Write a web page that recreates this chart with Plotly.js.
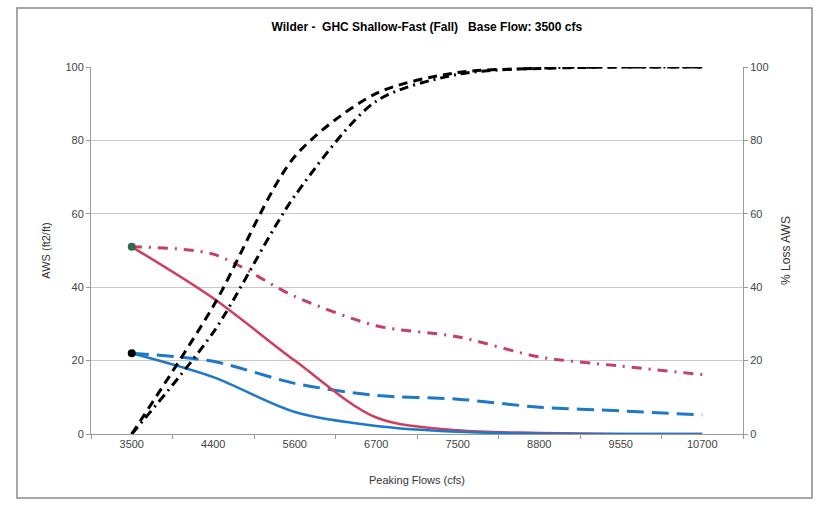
<!DOCTYPE html>
<html>
<head>
<meta charset="utf-8">
<script src="https://cdn.plot.ly/plotly-3.0.1.min.js"></script>
<style>
html,body{margin:0;padding:0;background:#fff;}
#chart{width:824px;height:505px;}
</style>
</head>
<body>
<div id="chart"></div>
<script>
// Category labels (peaking flows, cfs)
const categories = ['3500','4400','5600','6700','7500','8800','9550','10700'];
// AWS (ft2/ft) series, left axis
const awsRedSolid    = [51, 37, 20, 4.5, 1.0, 0.3, 0, 0];
const awsBlueSolid   = [22, 15.5, 6, 2.2, 0.6, 0.1, 0, 0];
const awsBlueDash    = [22, 19.8, 13.8, 10.5, 9.5, 7.3, 6.3, 5.2];
const awsRedDashDot  = [51, 49, 37.5, 29.5, 26.5, 21, 18.5, 16.2];
// % Loss AWS series, right axis
const lossBlackDash    = [0, 34.8, 75.6, 92.8, 98.5, 99.6, 100, 100];
const lossBlackDashDot = [0, 27.7, 64.9, 90.7, 98, 99.7, 100, 100];
// Base-flow markers
const baseRed  = [51];
const baseBlue = [22];

const red = '#CF3F5C', red2 = '#C2406A', blue = '#1E78C8';
const traces = [
  {x: categories, y: awsRedDashDot, mode:'lines', line:{color:red2, width:3, dash:'10px,7px,2px,7px', shape:'spline', smoothing:0.8}, yaxis:'y'},
  {x: categories, y: awsBlueDash, mode:'lines', line:{color:blue, width:3, dash:'17px,8px', shape:'spline', smoothing:0.8}, yaxis:'y'},
  {x: categories, y: awsRedSolid, mode:'lines', line:{color:red, width:2.5, shape:'spline', smoothing:0.9}, yaxis:'y'},
  {x: categories, y: awsBlueSolid, mode:'lines', line:{color:blue, width:2.5, shape:'spline', smoothing:0.9}, yaxis:'y'},
  {x: categories, y: lossBlackDash, mode:'lines', line:{color:'#000', width:3, dash:'9px,6px', shape:'spline', smoothing:0.8}, yaxis:'y2'},
  {x: categories, y: lossBlackDashDot, mode:'lines', line:{color:'#000', width:3, dash:'9px,5px,2px,5px', shape:'spline', smoothing:0.8}, yaxis:'y2'},
  {x: [categories[0]], y: baseRed, mode:'markers', marker:{color:'#2E6B4E', size:8}, yaxis:'y'},
  {x: [categories[0]], y: baseBlue, mode:'markers', marker:{color:'#000', size:8}, yaxis:'y'}
];

const font = {family:'Arial, Liberation Sans, sans-serif', size:11, color:'#333'};
const X0 = 91, X1 = 743, Y0 = 67, Y1 = 434;
const px = v => (v - X0) / (X1 - X0);
const py = v => (Y1 - v) / (Y1 - Y0);

const layout = {
  width:824, height:505,
  margin:{l:X0, r:824-X1, t:Y0, b:505-Y1},
  paper_bgcolor:'#fff', plot_bgcolor:'#fff',
  showlegend:false,
  font: font,
  title:{text:'Wilder -  GHC Shallow-Fast (Fall)   Base Flow: 3500 cfs', font:{family:'Arial, Liberation Sans, sans-serif', size:12, color:'#000', weight:'bold'}, xref:'container', x:0.518, xanchor:'center', yref:'container', y:1-27/505, yanchor:'middle'},
  xaxis:{type:'category', range:[-0.5, 7.5], showgrid:false, zeroline:false,
    showline:true, linecolor:'#9a9a9a', linewidth:1, ticks:'outside', tickson:'boundaries', ticklen:4, tickcolor:'#9a9a9a',
    tickfont:{family:'Arial, Liberation Sans, sans-serif', size:11, color:'#444'},
    title:{text:'Peaking Flows (cfs)', font:{family:'Arial, Liberation Sans, sans-serif', size:11, color:'#333'}, standoff:27}},
  yaxis:{range:[0,100], dtick:20, showgrid:true, gridcolor:'#c8c8c8', gridwidth:1, zeroline:false,
    showline:true, linecolor:'#9a9a9a', ticks:'outside', ticklen:4, tickcolor:'#9a9a9a',
    tickfont:{family:'Arial, Liberation Sans, sans-serif', size:11, color:'#444'},
    title:{text:'AWS (ft2/ft)', font:{family:'Arial, Liberation Sans, sans-serif', size:11, color:'#333'}, standoff:12}},
  yaxis2:{range:[0,100], dtick:20, overlaying:'y', side:'right', showgrid:false, zeroline:false,
    showline:true, linecolor:'#9a9a9a', ticks:'outside', ticklen:4, tickcolor:'#9a9a9a',
    tickfont:{family:'Arial, Liberation Sans, sans-serif', size:11, color:'#444'},
    title:{text:'% Loss AWS', font:{family:'Arial, Liberation Sans, sans-serif', size:12, color:'#333'}, standoff:14}},
  shapes:[
    {type:'rect', xref:'paper', yref:'paper', x0:px(17), x1:px(812), y0:py(498), y1:py(8), line:{color:'#8a8a8a', width:1.5}, layer:'below'}
  ]
};

Plotly.newPlot('chart', traces, layout, {staticPlot:true, displayModeBar:false});
</script>
</body>
</html>
